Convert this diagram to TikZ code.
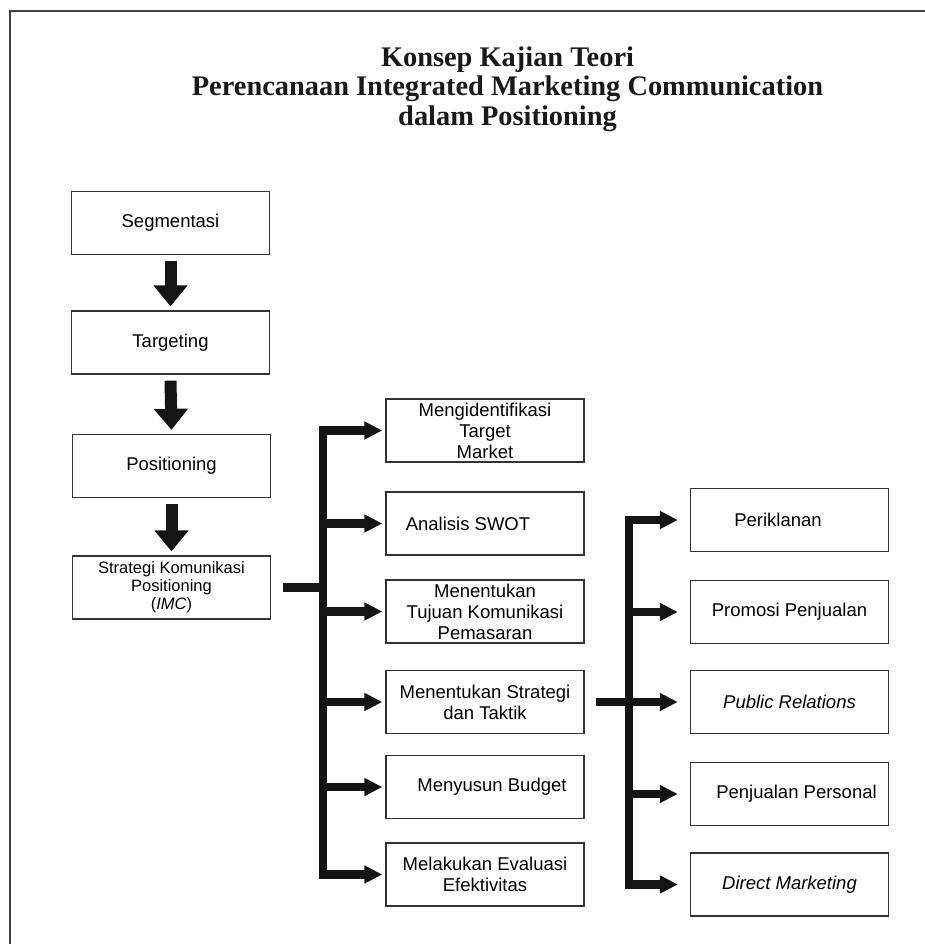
\documentclass[tikz,border=0pt]{standalone}
\usepackage{fontspec}
\setmainfont{Liberation Sans}
\newfontfamily\titlefont{Liberation Serif}
\usetikzlibrary{arrows.meta,positioning}

\begin{document}
\begin{tikzpicture}[x=1pt,y=-1pt,line join=miter,
	kotak/.style={draw=black!80,line width=1.3pt,minimum width=198pt,minimum height=63pt,inner sep=1pt,align=center,font=\fontsize{18.5}{21}\selectfont},
	kecil/.style={font=\fontsize{16.5}{18}\selectfont},
	panah/.style={draw=black!92,line width=12pt,-{Triangle[length=21pt,width=33pt]}},
	jalur/.style={draw=black!92,line width=8.5pt},
	ujung/.style={-{Triangle[length=18pt,width=17pt]}},
	duaujung/.style={{Triangle[length=18pt,width=17pt]}-{Triangle[length=18pt,width=17pt]}}]
	\useasboundingbox (0,0) rectangle (925,944);
	\draw[line width=2pt,black!75] (925,11) -- (10,11) -- (10,944);
	
	\node[font=\titlefont\bfseries\fontsize{28.4}{29.5}\selectfont,align=center,text=black!90] (judul) at (507.5,89) {Konsep Kajian Teori\\Perencanaan Integrated Marketing Communication\\dalam Positioning};
	
	\node[kotak] (seg) at (170.5,223) {Segmentasi};
	\node[kotak] (tgt) at (170.5,342.5) {Targeting};
	\node[kotak] (pos) at (171.5,466) {Positioning};
	\node[kotak,kecil] (imc) at (171.5,587.5) {Strategi Komunikasi\\Positioning\\(\textit{IMC})};
	
	\node[kotak] (idt) at (485,430.5) {Mengidentifikasi\\Target\\Market};
	\node[kotak] (swot) at (485,523.5) {Analisis SWOT\hspace*{34pt}};
	\node[kotak] (tuj) at (485,611.5) {Menentukan\\Tujuan Komunikasi\\Pemasaran};
	\node[kotak] (stg) at (485,702) {Menentukan Strategi\\dan Taktik};
	\node[kotak] (bgt) at (485,787) {\hspace*{14pt}Menyusun Budget};
	\node[kotak] (evl) at (485,874.5) {Melakukan Evaluasi\\Efektivitas};
	
	\node[kotak] (ikl) at (789.5,520) {Periklanan\hspace*{23pt}};
	\node[kotak] (pro) at (789.5,612) {Promosi Penjualan};
	\node[kotak] (pr) at (789.5,702) {\textit{Public Relations}};
	\node[kotak] (psn) at (789.5,794) {\hspace*{14pt}Penjualan Personal};
	\node[kotak] (dm) at (789.5,884.5) {\textit{Direct Marketing}};
	
	\foreach \a/\b in {seg/tgt,tgt/pos,pos/imc}
		\draw[panah] ([yshift=-6pt]\a.south) -- ([yshift=4pt]\b.north);
	
	\coordinate (b1) at (323,0);
	\coordinate (b2) at (629,0);
	
	\draw[jalur] ([xshift=12pt]imc.east) -- (imc.east -| b1);
	\draw[jalur,duaujung] ([xshift=-3pt]idt.west) -| (evl.west -| b1) -- ([xshift=-3pt]evl.west);
	\foreach \n in {swot,tuj,stg,bgt}
		\draw[jalur,ujung] (\n.west -| b1) -- ([xshift=-3pt]\n.west);
	
	\draw[jalur] ([xshift=11pt]stg.east) -- (stg.east -| b2);
	\draw[jalur,duaujung] ([xshift=-12pt]ikl.west) -| (dm.west -| b2) -- ([xshift=-12pt]dm.west);
	\foreach \n in {pro,pr,psn}
		\draw[jalur,ujung] (\n.west -| b2) -- ([xshift=-12pt]\n.west);
\end{tikzpicture}
\end{document}
